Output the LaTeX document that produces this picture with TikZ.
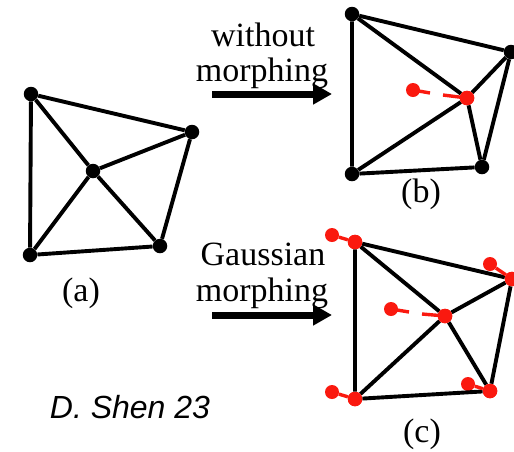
\documentclass[tikz,border=0pt]{standalone}
\usepackage{fontspec}
\setmainfont{Liberation Serif}
\setsansfont{Liberation Sans}
\usetikzlibrary{arrows.meta}
\definecolor{redpt}{RGB}{250,25,15}
\tikzset{
 x=1pt,y=-1pt,
 edge/.style={line width=3.9pt,black},
 bpt/.style={circle,fill=black,inner sep=0pt,minimum size=14.5pt},
 rpt/.style={circle,fill=redpt,inner sep=0pt,minimum size=14.5pt},
 gpt/.style={circle,fill=redpt,inner sep=0pt,minimum size=14pt},
 rlink/.style={line width=3.4pt,redpt},
 big/.style={-{Triangle[length=19pt,width=20pt]},line width=7pt,black},
 lab/.style={inner sep=0pt,font=\fontsize{34}{36}\selectfont},
}
\begin{document}
\begin{tikzpicture}
\useasboundingbox (0,0) rectangle (514,451);
% (a)
\node[bpt] (a1) at (31,94) {};
\node[bpt] (a2) at (192,132) {};
\node[bpt] (a3) at (93,171) {};
\node[bpt] (a4) at (30,255) {};
\node[bpt] (a5) at (160,246) {};
\draw[edge] (a1)--(a2)--(a5)--(a4)--(a1);
\draw[edge] (a1)--(a3)--(a5) (a2)--(a3)--(a4);
% (b)
\node[bpt] (b1) at (352,14) {};
\node[bpt] (b2) at (511,52) {};
\node[bpt] (b4) at (352,174) {};
\node[bpt] (b5) at (482,167) {};
\node[rpt] (b3) at (467,98) {};
\node[gpt] (br) at (413,90) {};
\draw[edge] (b1)--(b2)--(b5)--(b4)--(b1);
\draw[edge] (b1)--(b3)--(b5) (b2)--(b3)--(b4);
\draw[rlink] (br.center)--(430,93);
\draw[rlink] (443,95)--(b3.center);
\node[rpt] at (b3) {};
% (c)
\node[rpt] (c1) at (355,242) {};
\node[rpt] (c2) at (512,279) {};
\node[rpt] (c3) at (445,316) {};
\node[rpt] (c4) at (355,399) {};
\node[rpt] (c5) at (490,391) {};
\node[gpt] (d1) at (332,235) {};
\node[gpt] (d2) at (490,264) {};
\node[gpt] (d3) at (391,309) {};
\node[gpt] (d4) at (332,392) {};
\node[gpt] (d5) at (468,384) {};
\draw[edge] (c1)--(c2)--(c5)--(c4)--(c1);
\draw[edge] (c1)--(c3)--(c5) (c2)--(c3)--(c4);
\draw[rlink] (d1)--(c1);
\draw[rlink] (d2)--(c2);
\draw[rlink] (d4)--(c4);
\draw[rlink] (d5)--(c5);
\draw[rlink] (d3.center)--(409,312);
\draw[rlink] (422,314)--(c3.center);
\foreach \n in {c1,c2,c3,c4,c5}{\node[rpt] at (\n) {};}
% arrows
\coordinate (s1) at (212,94);
\coordinate (e1) at (332,94);
\coordinate (s2) at (212,315);
\coordinate (e2) at (332,315);
\draw[big] (s1)--(e1);
\draw[big] (s2)--(e2);
% text
\node[lab] (t1) at (263,35) {without};
\node[lab] (t2) at (262,73) {morphing};
\node[lab] (t3) at (263,254) {Gaussian};
\node[lab] (t4) at (262,293) {morphing};
\node[lab] (la) at (81,293) {(a)};
\node[lab] (lb) at (421,194) {(b)};
\node[lab] (lc) at (422,434) {(c)};
\node[inner sep=0pt,font=\sffamily\itshape\fontsize{32}{34}\selectfont] (cr) at (130,407) {D. Shen 23};
\end{tikzpicture}
\end{document}
